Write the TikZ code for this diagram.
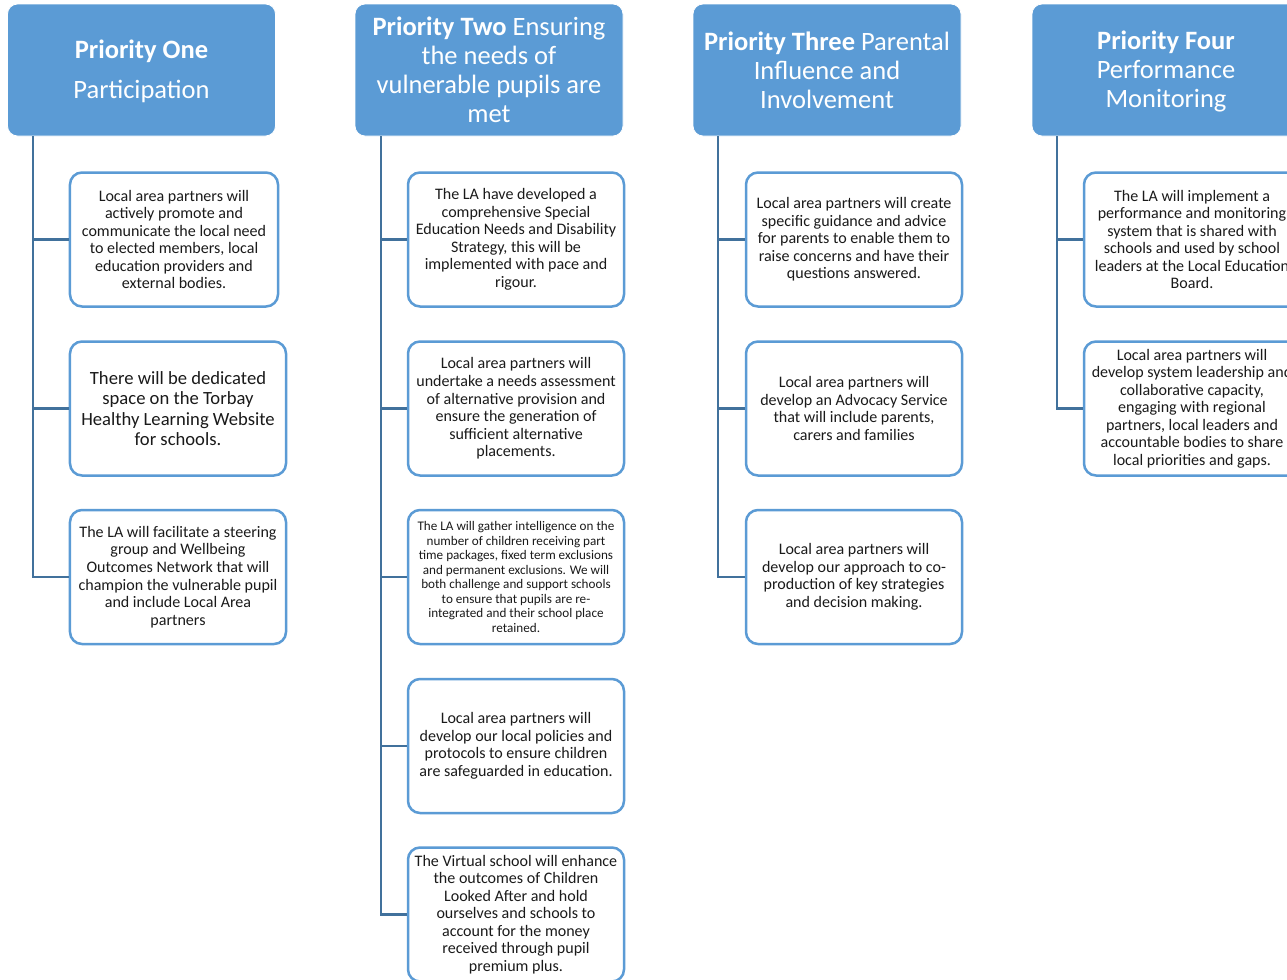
\documentclass[tikz,border=0pt]{standalone}
\usepackage{fontspec}
\setmainfont{Carlito}
\definecolor{hdr}{HTML}{5B9BD5}
\definecolor{bord}{HTML}{5B9BD5}
\definecolor{conn}{HTML}{41719C}
\definecolor{txt}{HTML}{1A1A1A}
\tikzset{
  header/.style={draw=white, line width=0.8bp, fill=hdr, rounded corners=10bp,
    minimum width=268bp, minimum height=132bp, text=white, align=center,
    font=\fontsize{26.6}{29}\selectfont, inner sep=0pt},
  item/.style={draw=bord, line width=2.5bp, fill=white, rounded corners=12bp,
    minimum width=216bp, minimum height=134bp, text=txt, align=center,
    font=\fontsize{16.1}{17.6}\selectfont, inner sep=0pt},
  link/.style={draw=conn, line width=2.5bp}
}
\begin{document}
\begin{tikzpicture}[x=1bp,y=-1bp]
\clip (0,0) rectangle (1287,980);
\fill[white] (0,0) rectangle (1287,980);

% headers
\node[header] (h1) at (141.5,70) {\rule{0pt}{22bp}\textbf{Priority One}\\[11bp]Participation};
\node[header] (h2) at (489,70) {\textbf{Priority Two} Ensuring\\the needs of\\vulnerable pupils are\\met};
\node[header] (h3) at (827,70) {\textbf{Priority Three} Parental\\Influence and\\Involvement};
\node[header] (h4) at (1166,70) {\rule{0pt}{22bp}\textbf{Priority Four}\\Performance\\Monitoring};

\coordinate (t1) at (33,136);
\coordinate (t2) at (381,136);
\coordinate (t3) at (718,136);
\coordinate (t4) at (1057,136);

% column 1
\node[item, minimum width=208bp] (a1) at (174,239.5) {Local area partners will\\actively promote and\\communicate the local need\\to elected members, local\\education providers and\\external bodies.};
\node[item, font=\fontsize{18.7}{20.3}\selectfont] (a2) at (178,408.5) {There will be dedicated\\space on the Torbay\\Healthy Learning Website\\for schools.};
\node[item] (a3) at (178,577) {The LA will facilitate a steering\\group and Wellbeing\\Outcomes Network that will\\champion the vulnerable pupil\\and include Local Area\\partners};

% column 2
\node[item] (b1) at (516,239.5) {The LA have developed a\\comprehensive Special\\Education Needs and Disability\\Strategy, this will be\\implemented with pace and\\rigour.};
\node[item] (b2) at (516,408.5) {Local area partners will\\undertake a needs assessment\\of alternative provision and\\ensure the generation of\\sufficient alternative\\placements.};
\node[item, font=\fontsize{13.2}{14.6}\selectfont] (b3) at (516,577) {The LA will gather intelligence on the\\number of children receiving part\\time packages, fixed term exclusions\\and permanent exclusions. We will\\both challenge and support schools\\to ensure that pupils are re-\\integrated and their school place\\retained.};
\node[item] (b4) at (516,746) {Local area partners will\\develop our local policies and\\protocols to ensure children\\are safeguarded in education.};
\node[item] (b5) at (516,914.5) {The Virtual school will enhance\\the outcomes of Children\\Looked After and hold\\ourselves and schools to\\account for the money\\received through pupil\\premium plus.};

% column 3
\node[item] (c1) at (854,239.5) {Local area partners will create\\specific guidance and advice\\for parents to enable them to\\raise concerns and have their\\questions answered.};
\node[item] (c2) at (854,408.5) {Local area partners will\\develop an Advocacy Service\\that will include parents,\\carers and families};
\node[item] (c3) at (854,577) {Local area partners will\\develop our approach to co-\\production of key strategies\\and decision making.};

% column 4
\node[item] (d1) at (1192,239.5) {The LA will implement a\\performance and monitoring\\system that is shared with\\schools and used by school\\leaders at the Local Education\\Board.};
\node[item] (d2) at (1192,408.5) {Local area partners will\\develop system leadership and\\collaborative capacity,\\engaging with regional\\partners, local leaders and\\accountable bodies to share\\local priorities and gaps.};

% connectors
\foreach \n in {a1,a2,a3} \draw[link] (t1) |- (\n.west);
\foreach \n in {b1,b2,b3,b4,b5} \draw[link] (t2) |- (\n.west);
\foreach \n in {c1,c2,c3} \draw[link] (t3) |- (\n.west);
\foreach \n in {d1,d2} \draw[link] (t4) |- (\n.west);
\end{tikzpicture}
\end{document}
